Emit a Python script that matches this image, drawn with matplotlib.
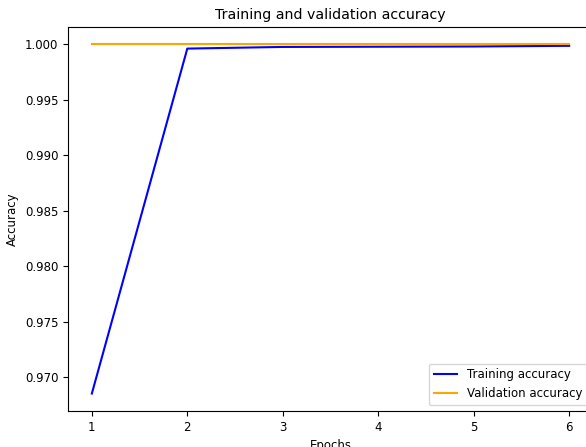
import matplotlib
matplotlib.use("Agg")
import matplotlib.pyplot as plt

epochs = [1, 2, 3, 4, 5, 6]
train_acc = [0.9685, 0.99963, 0.99978, 0.99980, 0.99982, 0.99988]
val_acc = [1.0, 1.0, 1.0, 1.0, 1.0, 1.0]

plt.rcParams['font.size'] = 8.5

fig = plt.figure(figsize=(5.86, 4.47), dpi=100)
# axes run a little past the right edge, like the cropped original
ax = fig.add_axes([0.116, 0.0805, 0.896, 0.859])

ax.plot(epochs, train_acc, color='blue', label='Training accuracy')
ax.plot(epochs, val_acc, color='orange', label='Validation accuracy')
ax.set_title('Training and validation accuracy', fontsize=10.2)
ax.set_xlabel('Epochs')
ax.set_ylabel('Accuracy')
ax.legend(loc='lower right')

fig.savefig('out.png', dpi=100)
